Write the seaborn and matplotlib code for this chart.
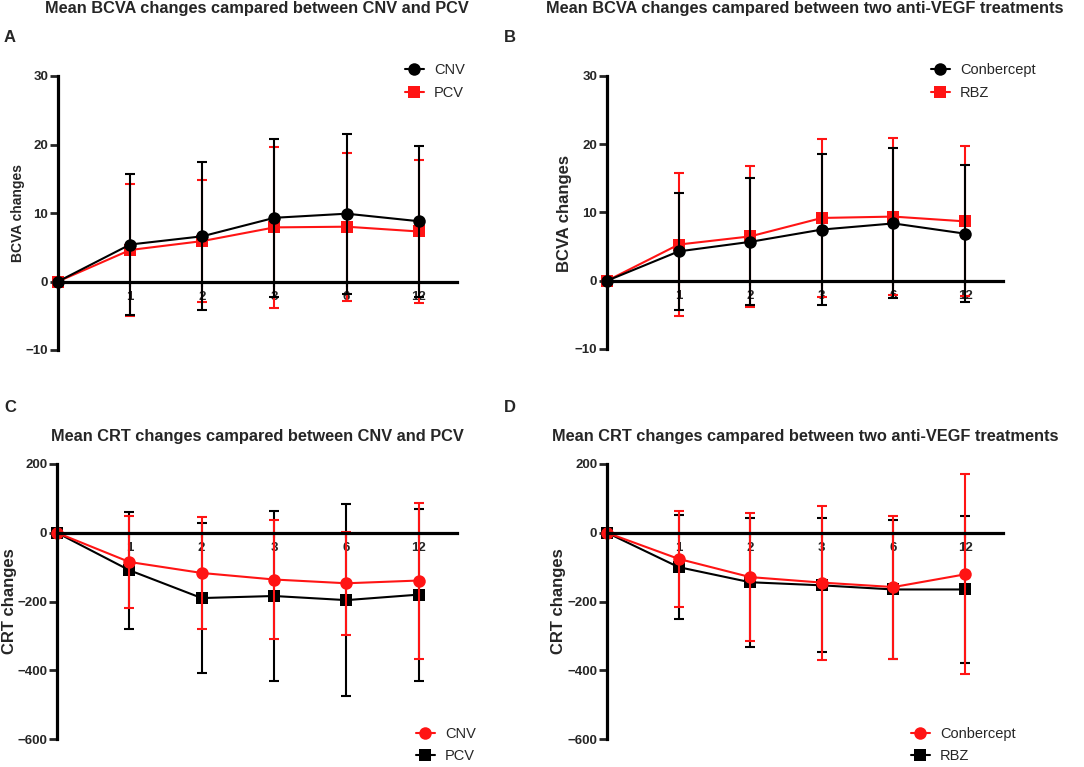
import numpy as np
import pandas as pd
import matplotlib
matplotlib.use('Agg')
import matplotlib.pyplot as plt
import seaborn as sns

# time points (months) and their tick labels
months = [0, 1, 2, 3, 6, 12]
x_labels = ['', '1', '2', '3', '6', '12']

# BCVA, CNV vs PCV
bcva_cnv_mean = [0, 5.4, 6.6, 9.3, 9.9, 8.8]
bcva_cnv_sd = [0, 10.3, 10.8, 11.5, 11.7, 11.0]
bcva_pcv_mean = [0, 4.6, 5.9, 7.9, 8.0, 7.3]
bcva_pcv_sd = [0, 9.7, 8.9, 11.7, 10.8, 10.4]

# BCVA, Conbercept vs RBZ
bcva_conb_mean = [0, 4.3, 5.7, 7.5, 8.4, 6.9]
bcva_conb_sd = [0, 8.6, 9.3, 11.1, 11.0, 10.0]
bcva_rbz_mean = [0, 5.3, 6.5, 9.2, 9.4, 8.7]
bcva_rbz_sd = [0, 10.5, 10.3, 11.6, 11.5, 11.0]

# CRT, CNV vs PCV
crt_cnv_mean = [0, -85, -117, -136, -147, -139]
crt_cnv_sd = [0, 134, 164, 173, 150, 227]
crt_pcv_mean = [0, -109, -190, -184, -196, -180]
crt_pcv_sd = [0, 170, 218, 246, 280, 250]

# CRT, Conbercept vs RBZ
crt_conb_mean = [0, -76, -129, -145, -158, -121]
crt_conb_sd = [0, 139, 187, 224, 208, 291]
crt_rbz_mean = [0, -100, -144, -153, -165, -165]
crt_rbz_sd = [0, 152, 187, 195, 202, 215]

RED = '#ff1414'
BLACK = '#000000'

sns.set_theme(style="white")
plt.rcParams['font.family'] = ['Liberation Sans', 'DejaVu Sans']

W, H = 1084, 767
fig = plt.figure(figsize=(W / 100, H / 100), dpi=100)


def px_axes(left, top, right, bottom):
    return fig.add_axes([left / W, 1 - bottom / H, (right - left) / W, (bottom - top) / H])


def draw_series(ax, mean, sd, color, marker, label):
    pos = np.arange(len(months))
    df = pd.DataFrame({'pos': pos, 'mean': mean})
    ax.errorbar(pos[1:], mean[1:], yerr=sd[1:], fmt='none', ecolor=color,
                elinewidth=1.5, capsize=3.6, capthick=1.5, clip_on=False)
    sns.lineplot(data=df, x='pos', y='mean', ax=ax, color=color, marker=marker,
                 markersize=9, markeredgewidth=0, linewidth=1.5, label=label,
                 clip_on=False, legend=False)


def style_axes(ax, ylim, yticks):
    ax.set_xlim(0, 5.53)
    ax.set_ylim(*ylim)
    ax.set_yticks(yticks)
    ax.set_xticks(np.arange(1, len(months)))
    ax.set_xticklabels(x_labels[1:])
    for s in ['top', 'right']:
        ax.spines[s].set_visible(False)
    ax.spines['bottom'].set_position(('data', 0))
    for s in ['left', 'bottom']:
        ax.spines[s].set_linewidth(2.3)
        ax.spines[s].set_color('black')
    ax.tick_params(axis='y', direction='out', length=5.5, width=2, pad=1.5,
                   labelsize=9.5, left=True)
    ax.tick_params(axis='x', direction='out', length=3.5, width=1.5, pad=3.5,
                   labelsize=9.5, bottom=True)
    for t in ax.get_xticklabels() + ax.get_yticklabels():
        t.set_fontweight('bold')
    ax.set_xlabel('')
    ax.set_ylabel('')
    ax.patch.set_alpha(0)


def add_legend(ax, left, cy, order):
    h, l = ax.get_legend_handles_labels()
    h = [h[i] for i in order]
    l = [l[i] for i in order]
    fig.legend(h, l, loc='center left', bbox_to_anchor=(left / W, 1 - cy / H),
               frameon=False, fontsize=10.5, handlelength=1.3, handletextpad=0.7,
               labelspacing=0.6, borderpad=0, borderaxespad=0)


# A
axA = px_axes(58, 76, 457, 350)
draw_series(axA, bcva_pcv_mean, bcva_pcv_sd, RED, 's', 'PCV')
draw_series(axA, bcva_cnv_mean, bcva_cnv_sd, BLACK, 'o', 'CNV')
style_axes(axA, (-10, 30), [-10, 0, 10, 20, 30])
add_legend(axA, 405, 81.5, [1, 0])

# B
axB = px_axes(607, 76, 1003, 349)
draw_series(axB, bcva_rbz_mean, bcva_rbz_sd, RED, 's', 'RBZ')
draw_series(axB, bcva_conb_mean, bcva_conb_sd, BLACK, 'o', 'Conbercept')
style_axes(axB, (-10, 30), [-10, 0, 10, 20, 30])
add_legend(axB, 931, 81.5, [1, 0])

# C
axC = px_axes(57, 464, 457, 739)
draw_series(axC, crt_pcv_mean, crt_pcv_sd, BLACK, 's', 'PCV')
draw_series(axC, crt_cnv_mean, crt_cnv_sd, RED, 'o', 'CNV')
style_axes(axC, (-600, 200), [-600, -400, -200, 0, 200])
add_legend(axC, 416, 745, [1, 0])

# D
axD = px_axes(607, 464, 1003, 739)
draw_series(axD, crt_rbz_mean, crt_rbz_sd, BLACK, 's', 'RBZ')
draw_series(axD, crt_conb_mean, crt_conb_sd, RED, 'o', 'Conbercept')
style_axes(axD, (-600, 200), [-600, -400, -200, 0, 200])
add_legend(axD, 911, 745, [1, 0])

# titles, panel letters, y labels
title_kw = dict(ha='center', va='center', fontsize=11.8, fontweight='bold')
fig.text(257 / W, 1 - 9 / H, 'Mean BCVA changes campared between CNV and PCV', **title_kw)
fig.text(805 / W, 1 - 9 / H, 'Mean BCVA changes campared between two anti-VEGF treatments', **title_kw)
fig.text(257 / W, 1 - 436 / H, 'Mean CRT changes campared between CNV and PCV', **title_kw)
fig.text(805 / W, 1 - 436 / H, 'Mean CRT changes campared between two anti-VEGF treatments', **title_kw)

letter_kw = dict(ha='left', va='center', fontsize=12, fontweight='bold')
fig.text(4 / W, 1 - 37 / H, 'A', **letter_kw)
fig.text(504 / W, 1 - 37 / H, 'B', **letter_kw)
fig.text(4 / W, 1 - 408 / H, 'C', **letter_kw)
fig.text(504 / W, 1 - 408 / H, 'D', **letter_kw)

ylab_kw = dict(ha='center', va='center', rotation=90, fontweight='bold')
fig.text(18 / W, 1 - 213 / H, 'BCVA changes', fontsize=10, **ylab_kw)
fig.text(565 / W, 1 - 213 / H, 'BCVA changes', fontsize=12, **ylab_kw)
fig.text(10 / W, 1 - 601 / H, 'CRT changes', fontsize=12, **ylab_kw)
fig.text(559 / W, 1 - 601 / H, 'CRT changes', fontsize=12, **ylab_kw)

fig.savefig('out.png', dpi=100)
